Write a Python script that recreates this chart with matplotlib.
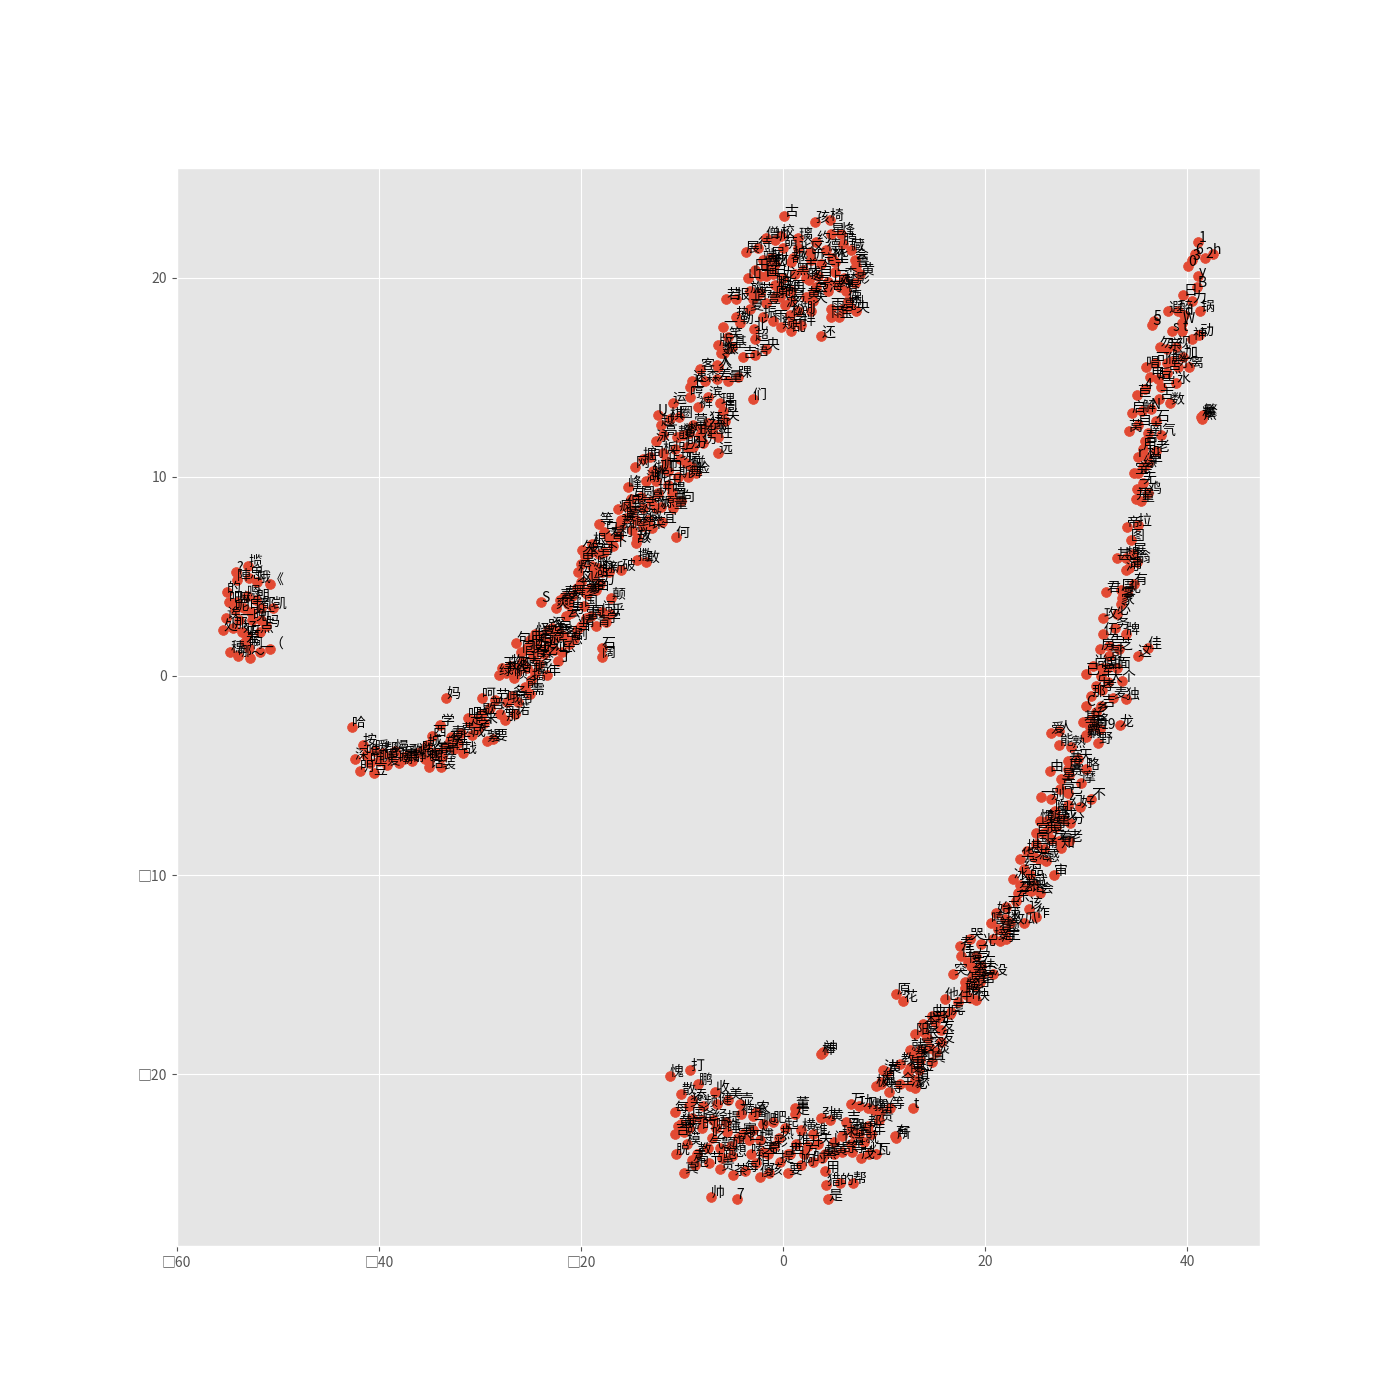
import matplotlib
matplotlib.use("Agg")
import matplotlib.pyplot as plt

plt.style.use("ggplot")
plt.rcParams["font.family"] = ["Noto Sans CJK SC", "DejaVu Sans"]
plt.rcParams["axes.unicode_minus"] = False

blob = [("揽",-52.9,5.5),("?",-54.1,5.2),("陣",-54.0,4.8),("思",-52.8,4.9),("《",-50.8,4.6),("的",-55.0,4.2),("嗯",-53.0,4.0),("朗",-52.2,3.8),
("怕",-53.3,3.4),("都",-51.7,3.4),("凯",-50.5,3.4),("诶",-55.1,2.9),("一",-53.8,2.8),("晚",-52.5,2.8),("忙",-51.7,2.8),("处",-55.4,2.3),
("那",-54.4,2.4),("好",-53.5,2.2),("点",-51.8,2.2),("差",-53.2,1.7),("穗",-54.7,1.2),("一",-51.8,1.2),("（",-50.8,1.35),("～",-52.7,0.9),
("哪",-53.9,1.0),("呢",-54.2,3.3),("吧",-54.8,3.7),("啊",-52.8,1.4),("哦",-52.1,4.7),("嘛",-54.0,3.7),("了",-52.6,3.2),("吗",-51.2,2.5),("呀",-53.0,2.0)]

low_left = [("哈",-42.7,-2.6),("深",-42.4,-4.2),("明",-41.9,-4.8),("按",-41.6,-3.5),("唯",-41.3,-4.0),("听",-40.9,-4.4),("豆",-40.5,-4.9),("暖",-40.4,-3.8),
("聊",-40.0,-4.3),("帮",-39.6,-3.9),("爱",-39.2,-4.5),("的",-38.8,-4.1),("慢",-38.4,-3.8),("嘲",-38.0,-4.4),("乐",-37.6,-4.1),("歌",-37.1,-4.0),
("静",-36.7,-4.3),("说",-36.2,-3.9),("吗",-35.7,-3.8),("地",-35.4,-4.2),("明",-35.0,-4.3),("话",-35.0,-4.6),("城",-35.2,-3.5),("西",-34.7,-3.05),
("高",-34.2,-3.9),("真",-33.7,-4.1),("装",-33.8,-4.6),("望",-33.4,-3.6),("青",-32.9,-3.1),("在",-32.6,-3.7),("上",-32.2,-3.4),("学",-33.9,-2.5),
("费",-31.9,-2.9),("战",-31.7,-3.9),("走",-31.0,-2.4),("成",-30.8,-3.0),("定",-30.2,-2.7),("吧",-31.2,-2.1),("来",-29.6,-2.4),("紫",-29.3,-3.3),
("要",-28.7,-3.2),("妈",-33.3,-1.1),("呵",-29.8,-1.1),("普",-29.0,-1.6),("节",-28.5,-1.2),("海",-28.0,-1.9),("那",-27.5,-2.2),("哦",-27.3,-1.3),
("名",-26.8,-1.0),("诺",-26.5,-1.9),("南",-26.2,-1.3),("俞",-25.5,-0.55),("需",-25.0,-0.9),("晨",-37.5,-4.2),("午",-34.5,-3.9),("早",-30.5,-2.2),("夜",-33.0,-3.3),("歇",-29.8,-1.9)]

mid_left = [("绿",-28.1,0.05),("玉",-27.8,0.4),("热",-27.4,0.15),("物",-27.0,0.5),("帧",-26.6,-0.1),("给",-26.3,0.2),("月",-25.8,0.7),("南",-25.3,0.4),
("搞",-24.9,-0.2),("喝",-24.5,0.15),("梦",-24.1,0.6),("年",-23.4,0.05),("句",-26.4,1.65),("同",-25.9,1.2),("北",-25.3,1.4),("春",-24.7,1.0),
("相",-24.3,1.5),("吃",-23.7,1.1),("流",-23.2,1.7),("证",-22.7,1.3),("丁",-22.3,0.75),("乐",-21.9,1.2),("手",-22.5,1.95),("曲",-25.0,1.8),
("怪",-24.5,2.1),("喜",-23.9,1.95),("路",-23.3,2.3),("深",-22.9,2.4),("民",-22.2,2.2),("客",-21.7,2.0),("息",-21.2,1.6),("剧",-20.7,1.85),
("S",-23.9,3.7),("爽",-22.5,3.4),("素",-22.1,3.8),("寿",-21.7,3.95),("舒",-21.3,3.6),("男",-21.0,3.15),("当",-20.4,2.3),("情",-20.0,2.5),
("国",-19.7,3.5),("爹",-19.4,4.1),("周",-19.0,3.0),("青",-18.5,2.5),("闹",-17.9,3.2),("学",-17.5,2.7),("乎",-17.1,3.1),("颠",-17.0,3.9),
("石",-17.9,1.4),("阔",-17.9,0.95),("舞",-20.9,4.0),("全",-20.4,4.4),("风",-20.0,4.7),("爱",-19.6,4.2),("香",-19.0,4.4),("白",-18.5,4.3),
("力",-18.1,4.6),("粉",-20.3,5.2),("果",-20.0,5.6),("本",-19.6,6.0),("派",-18.9,5.5),("迷",-18.3,5.4),("脉",-17.9,5.2),("新",-17.2,5.2),
("破",-16.0,5.3),("兔",-19.0,6.2),("久",-19.9,6.3),("根",-18.9,6.6),("音",-18.2,6.1),("下",-17.7,6.2),("等",-18.2,7.6),("只",-17.7,7.2),
("看",-17.2,6.9),("下",-16.8,6.5),("利",-16.3,7.0),("荔",-16.1,7.5),("晴",-15.5,7.9),("疯",-16.3,8.35),("但",-15.5,8.5),("嗯",-14.9,7.3),
("故",-14.4,6.9),("笑",-14.5,7.8),("给",-13.9,7.5),("微",-13.4,7.8),("菜",-13.0,7.4),("撒",-14.4,5.8),("敢",-13.6,5.7),("敌",-14.5,6.65),
("宜",-12.0,7.7),("何",-10.6,6.95),("云",-21.5,3.0),("雪",-19.5,2.9),("沙",-23.5,1.4),("河",-26.5,0.4),("江",-24.5,1.3),("湖",-18.8,5.0)]

mid_upper = [("网",-14.6,10.5),("掘",-13.9,10.9),("间",-13.2,11.0),("彻",-12.9,10.3),("湖",-13.6,9.8),("呢",-12.6,9.8),("师",-11.8,10.4),("田",-11.4,9.6),
("拼",-12.4,9.2),("峰",-15.3,9.5),("圆",-14.1,9.0),("高",-13.1,8.8),("傻",-14.9,8.3),("定",-13.9,8.4),("你",-12.6,8.4),("源",-12.1,8.45),
("量",-10.9,8.4),("向",-10.1,8.8),("罩",-11.0,8.9),("正",-11.6,10.8),("口",-11.4,10.3),("斯",-10.4,10.0),("脸",-8.6,10.2),("舞",-9.4,10.0),
("碰",-9.0,10.5),("玩",-10.2,10.9),("瑞",-9.6,10.7),("问",-10.7,11.4),("板",-11.9,11.2),("分",-8.9,11.5),("泳",-12.6,11.8),("高",-11.9,12.1),
("越",-12.1,12.6),("棋",-11.2,12.9),("圈",-10.3,13.0),("瞥",-9.9,12.1),("营",-8.9,12.6),("树",-9.3,12.2),("时",-8.2,12.1),("伤",-7.9,11.7),
("狂",-7.4,12.7),("新",-6.7,12.6),("关",-5.7,12.8),("性",-6.4,12.0),("哼",-9.2,14.0),("滨",-7.4,14.0),("理",-6.2,13.7),("周",-5.9,13.3),
("裤",-8.4,13.5),("上",-9.2,14.5),("U",-12.4,13.1),("运",-10.9,13.7),("们",-3.0,13.9),("远",-6.4,11.2),("客",-8.2,15.4),("入",-6.5,15.6),
("速",-9.0,14.8),("森",-7.7,14.8),("差",-6.5,14.9),("量",-5.4,14.8),("踝",-4.5,15.0),("忆",-8.0,12.4),("感",-7.0,12.2),("明",-9.5,11.5),
("静",-10.5,12.0),("跳",-13.0,10.0),("唱",-11.0,9.2),("写",-15.0,8.9),("读",-16.0,7.8)]

top = [("古",0.1,23.1),("孩",3.2,22.8),("椅",4.6,22.9),("还",3.8,17.05),("星",4.7,22.2),("烽",5.7,22.2),("脖",5.9,21.7),("藏",6.7,21.4),
("僧",-1.7,22.0),("校",-0.2,22.1),("璃",1.5,22.0),("待",-2.5,21.5),("圳",-0.8,21.9),("萌",0.0,21.5),("论",1.5,21.5),("约",3.3,21.8),
("区",2.7,21.3),("德",4.3,21.4),("展",-3.7,21.3),("屈",-1.2,21.0),("端",-2.0,20.9),("都",0.8,20.8),("近",2.8,20.9),("华",5.1,20.8),
("会",7.1,20.9),("鲁",7.2,20.6),("材",-0.8,20.7),("定",3.8,20.7),("暴",-1.7,20.6),("画",-1.7,20.1),("白",-1.0,20.2),("山",-3.5,20.0),
("十",-2.3,20.1),("龙",0.0,20.0),("黑",1.2,20.2),("戚",2.3,20.0),("自",3.5,20.1),("亡",5.1,20.3),("黄",7.6,20.2),("上",4.5,19.8),
("影",7.1,19.7),("帕",-0.8,19.6),("相",-0.5,19.5),("旅",-3.3,19.3),("芳",-2.3,19.2),("再",0.8,19.3),("部",0.2,19.3),("号",3.3,19.5),
("海",4.5,19.3),("绵",5.6,19.5),("黄",2.3,19.0),("尽",3.0,19.2),("若",-5.6,18.9),("报",-4.7,18.9),("偕",-3.0,18.9),("原",-0.8,19.0),
("壹",-1.7,18.7),("易",0.8,18.8),("波",0.2,18.6),("j",2.8,18.3),("雨",4.7,18.4),("傈",6.4,18.8),("亮",5.9,18.4),("央",7.2,18.3),
("雨",4.7,18.0),("宝",5.5,18.0),("捌",6.6,18.5),("热",-4.7,18.0),("勒",-4.3,17.7),("振",-2.0,18.0),("雨",-1.0,17.8),("松",0.7,18.1),
("拌",1.8,17.6),("学",0.9,17.7),("窥",-0.2,17.5),("乱",0.8,17.3),("超",-2.8,16.9),("北",-2.9,17.4),("笑",-5.4,17.0),("央",-1.7,16.4),
("一",-5.9,17.5),("版",-6.4,16.6),("基",-5.0,16.5),("狠",-5.8,16.2),("吉",-4.0,16.0),("语",-2.8,16.1),("数",-6.1,16.2),("人",-6.4,15.5),
("城",1.0,21.0),("市",2.0,20.4),("林",4.8,21.0),("森",6.0,20.0),("田",-2.8,20.4),("地",-0.3,19.0),("湖",1.5,18.3),("天",3.0,18.8),
("春",6.2,19.3),("夏",-3.3,18.4),("秋",-1.0,20.6),("冬",2.6,19.9),("风",5.3,19.6)]

right_upper = [("1",41.1,21.8),("6",40.8,21.2),("3",40.5,20.9),("0",40.1,20.6),("2",41.8,21.0),("h",42.5,21.2),("y",41.1,20.1),("B",41.0,19.5),
("日",39.6,19.1),("力",40.5,18.8),("5",36.7,17.8),("S",36.5,17.6),("遐",38.1,18.3),("醉",39.1,18.3),("d",39.7,18.1),("锅",41.3,18.3),
("s",38.5,17.3),("W",39.5,17.7),("动",41.2,17.1),("神",40.5,16.9),("t",39.5,17.3),("勿",37.3,16.5),("亲",38.0,16.4),("视",38.9,16.5),
("加",39.6,16.0),("唱",35.9,15.5),("可",36.8,15.7),("信",38.0,15.7),("离",40.2,15.5),("尔",39.1,15.5),("点",38.0,15.2),("水",38.9,14.7),
("后",37.1,14.9),("岂",37.4,14.5),("4",35.8,14.4),("苣",35.0,14.1),("数",38.3,13.7),("古",37.2,13.9),("解",35.5,13.3),("启",34.5,13.2),
("N",36.4,13.4),("石",36.9,12.8),("自",35.1,12.6),("莴",34.2,12.3),("南",36.1,12.2),("氕",37.4,12.1),("吾",35.8,11.8),("老",36.9,11.3),
("用",35.6,11.4),("r",35.1,11.0),("单",36.1,10.7),("缘",35.6,10.5),("亲",35.1,10.2),("宝",34.7,10.2),("无",35.6,9.7),("鸡",36.1,9.2),
("二",35.0,9.4),("童",35.4,8.8),("并",34.9,8.9),("粮",41.4,13.0),("繁",41.6,13.1),("蕉",41.5,12.9),("电",36.3,15.0),("脑",38.5,15.8),("机",36.0,11.0)]

right_mid = [("拉",35.1,7.55),("帝",34.0,7.45),("图",34.4,6.8),("展",34.6,6.1),("翁",35.0,5.7),("甚",33.0,5.9),("想",33.9,5.9),("清",34.2,5.4),
("河",33.9,5.3),("有",34.7,4.6),("君",32.0,4.2),("周",33.4,4.3),("孔",34.0,4.2),("家",33.4,3.6),("零",33.5,3.9),("必",33.0,3.1),
("攻",31.7,2.9),("务",32.9,2.4),("牌",33.9,2.1),("伍",31.7,2.1),("佳",36.1,1.4),("这",35.1,1.0),("房",31.4,1.35),("告",32.3,1.5),
("芝",33.2,1.35),("哥",32.3,1.0),("尚",30.7,0.5),("已",30.0,0.1),("假",31.6,0.4),("甜",32.1,0.4),("面",33.0,0.4),("个",33.5,-0.25),
("大",32.2,-0.3),("乐",31.0,-0.5),("孝",31.6,-0.7),("那",30.5,-1.0),("麦",32.7,-1.1),("独",33.9,-1.15),("吉",31.5,-1.5),("C",30.0,-1.5),
("乡",31.0,-1.8),("龙",33.3,-2.5),("基",29.7,-2.3),("兰",30.4,-2.2),("19",31.4,-2.7),("罐",30.4,-2.6),("野",31.2,-3.4),("霸",30.0,-3.0),("躺",30.0,-3.1),
("军",31.5,0.0),("将",30.8,-2.5)]

right_low = [("爱",26.5,-2.9),("人",27.3,-2.8),("能",27.3,-3.5),("熟",28.5,-3.6),("天",29.2,-4.2),("略",30.0,-4.7),("由",26.4,-4.8),("塞",28.2,-4.3),
("度",28.2,-4.7),("摩",29.5,-5.4),("星",27.5,-5.2),("赛",28.3,-5.0),("高",27.4,-5.7),("己",28.2,-5.9),("不",30.5,-6.2),("一",25.5,-6.1),
("别",26.5,-6.2),("幻",28.2,-6.5),("好",29.4,-6.6),("陶",26.9,-6.8),("黑",26.9,-7.1),("分",28.4,-7.4),("成",27.7,-7.2),("惯",25.4,-7.3),
("朝",26.1,-7.3),("官",25.0,-7.9),("贡",25.8,-7.9),("方",26.5,-8.2),("着",27.3,-8.3),("老",28.3,-8.3),("知",27.5,-8.65),("国",25.0,-8.45),
("通",25.8,-8.7),("堪",24.1,-8.8),("头",24.8,-9.1),("感",26.0,-9.3),("志",25.3,-9.2),("华",23.5,-9.2),("综",23.8,-9.7),("审",26.8,-10.0),
("品",24.4,-10.0),("冰",22.8,-10.2),("梁",23.5,-10.5),("就",24.8,-10.5),("热",24.0,-10.7),("会",25.4,-10.9),("孕",23.3,-10.9),("东",23.1,-11.3),
("玉",22.1,-11.6),("该",24.3,-11.7),("作",25.0,-12.1),("球",22.0,-12.2),("瓜",23.8,-12.4),("故",22.5,-12.4),("始",21.1,-11.9),("嘻",20.6,-12.4),
("着",21.3,-12.7),("主",22.1,-13.2),("接",20.8,-13.2),("海",21.5,-13.3),("事",27.0,-7.6),("情",26.3,-7.7),("话",24.5,-10.8),("题",22.0,-12.8)]

right_bottom = [("哭",18.5,-13.2),("光",19.6,-13.5),("考",17.5,-13.6),("佳",17.6,-14.1),("马",19.1,-14.1),("在",19.6,-14.6),("先",18.6,-14.6),("秀",18.9,-14.9),
("否",19.7,-15.0),("没",20.8,-15.0),("突",16.8,-15.0),("怎",18.0,-15.4),("语",19.0,-15.6),("馆",19.5,-15.4),("龄",18.0,-15.7),("聘",18.0,-16.0),
("杯",18.5,-16.2),("任",17.3,-16.4),("他",16.0,-16.25),("原",11.2,-16.0),("花",11.9,-16.35),("二",16.6,-16.9),("虎",16.5,-17.0),("曲",14.7,-17.1),
("寸",15.5,-17.1),("术",13.9,-17.5),("发",15.6,-17.8),("阳",13.1,-18.0),("原",14.0,-17.9),("发",15.6,-18.4),("淡",15.1,-18.9),("亮",13.6,-18.8),
("就",12.6,-18.8),("真",14.7,-19.4),("和",13.6,-19.3),("基",13.0,-19.1),("教",11.6,-19.5),("使",12.4,-19.9),("重",12.6,-19.7),("法",9.9,-19.8),
("慎",13.1,-20.3),("全",11.6,-20.5),("必",13.1,-20.7),("温",9.7,-20.5),("长",14.2,-18.2),("短",13.5,-19.8),("深",14.5,-18.7),("浅",12.6,-20.6),
("轻",15.0,-17.4),("重",18.7,-15.2),("快",19.1,-16.3),("慢",18.3,-14.4)]

bottom_left = [("愧",-11.2,-20.1),("打",-9.2,-19.8),("鹏",-8.4,-20.5),("收",-6.7,-20.9),("散",-10.1,-21.0),("添",-9.0,-21.3),("奖",-9.3,-21.6),("美",-5.4,-21.3),
("壶",-4.3,-21.5),("频",-7.9,-21.6),("健",-6.5,-21.5),("每",-10.7,-21.9),("农",-2.7,-21.9),("裤",-4.2,-22.0),("播",-3.0,-22.1),("尘",-10.1,-22.5),
("国",-9.0,-22.2),("爸",-8.0,-22.3),("经",-6.9,-22.3),("提",-5.6,-22.4),("吉",-10.7,-23.0),("黄",-10.4,-22.6),("哼",-9.3,-22.7),("的",-8.0,-22.7),
("哪",-6.6,-22.7),("爬",-2.0,-22.5),("肥",-1.0,-22.4),("起",0.2,-22.7),("寡",-4.0,-23.0),("四",-3.4,-23.3),("博",-2.3,-23.3),("热",-0.4,-23.2),
("彩",-0.9,-23.6),("宗",-4.5,-23.2),("模",-9.5,-23.5),("脱",-10.6,-24.0),("教",-8.5,-24.0),("气",-7.4,-23.7),("题",-6.2,-23.7),("旗",-5.1,-23.6),
("世",0.5,-24.0),("显",-1.5,-24.0),("嗦",-3.2,-24.0),("想",-5.0,-24.1),("提",-0.3,-24.4),("抱",-8.7,-24.6),("节",-7.3,-24.5),("贵",-6.2,-24.8),
("相",-2.7,-24.5),("茶",-4.9,-25.1),("每",-3.8,-24.9),("真",-9.8,-25.0),("傻",-2.3,-25.2),("孩",-1.4,-25.0),("要",0.5,-25.0),("帅",-7.1,-26.2),("7",-4.6,-26.3),
("做",-9.8,-22.9),("吃",-7.0,-23.2),("睡",-5.5,-22.9),("笑",-2.0,-23.9),("走",-9.0,-24.3),("跑",-6.0,-24.2),("飞",-3.0,-22.8)]

bottom_right = [("棒",3.8,-19.0),("神",4.0,-18.9),("董",1.2,-21.7),("走",1.2,-22.0),("劲",3.8,-22.2),("黄",4.6,-22.3),("吉",6.2,-22.4),("万",6.7,-21.5),
("功",7.5,-21.6),("刚",8.4,-21.7),("t",12.9,-21.7),("所",11.2,-23.2),("有",11.1,-23.1),("瓦",9.2,-24.0),("撰",9.0,-21.8),("拼",9.6,-21.9),
("横",1.8,-22.8),("锥",3.0,-23.0),("推",1.3,-23.5),("西",0.7,-24.0),("方",2.1,-24.0),("啊",1.8,-24.6),("时",3.0,-24.4),("黑",3.9,-24.2),
("用",4.2,-24.9),("猎",4.3,-25.6),("的",5.6,-25.5),("帮",6.9,-25.5),("是",4.5,-26.3),("提",4.2,-24.0),("奇",5.8,-23.9),("等",6.8,-23.9),
("茂",7.7,-24.2),("黄",5.0,-24.0),("拌",7.0,-23.0),("驾",6.7,-22.8),("都",8.4,-22.6),("贵",9.5,-22.3),("等",10.6,-21.7),("年",8.7,-23.0),
("球",5.8,-23.1),("清",6.7,-23.5),("就",8.0,-23.4),("得",10.5,-20.9),("极",9.2,-20.6),("混",9.7,-20.4),("黄",10.3,-19.9),
("开",2.5,-23.6),("关",3.5,-23.5),("门",5.0,-23.4),("窗",7.5,-23.0),("灯",8.5,-24.0)]

clusters = [blob, low_left, mid_left, mid_upper, top, right_upper, right_mid, right_low, right_bottom, bottom_left, bottom_right]
x_ticks = [-60, -40, -20, 0, 20, 40]
x_tick_labels = ["□60", "□40", "□20", "0", "20", "40"]
y_ticks = [-20, -10, 0, 10, 20]
y_tick_labels = ["□20", "□10", "0", "10", "20"]

fig = plt.figure(figsize=(14, 14), dpi=100)
ax = fig.add_axes([0.1262, 0.1102, 0.7738, 0.7695])
for cluster in clusters:
    labels, xs, ys = zip(*cluster)
    ax.scatter(xs, ys, s=50, color="#E24A33", zorder=2)
    for label, x, y in zip(labels, xs, ys):
        ax.annotate(label, xy=(x, y), fontsize=10, color="black", zorder=3)
ax.set_xlim(-60, 47.2)
ax.set_ylim(-28.63, 25.48)
ax.set_xticks(x_ticks)
ax.set_xticklabels(x_tick_labels)
ax.set_yticks(y_ticks)
ax.set_yticklabels(y_tick_labels)
fig.savefig("out.png", dpi=100)
